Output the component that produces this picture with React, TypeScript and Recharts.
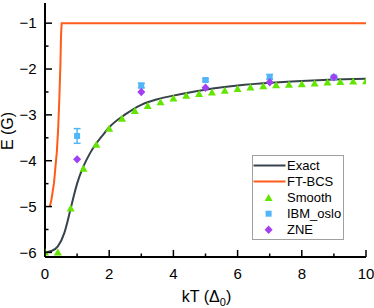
import React from 'react';
import { ComposedChart, Line, Scatter, XAxis, YAxis, ErrorBar, Legend } from 'recharts';

const FONT = '"Liberation Sans", Arial, Helvetica, sans-serif';

const COLOR_EXACT = '#37424a';
const COLOR_BCS = '#ff5b1a';
const COLOR_SMOOTH = '#62e600';
const COLOR_IBM = '#52b5f7';
const COLOR_ZNE = '#a23ff2';

// Exact curve
const EXACT_T = [0, 0.2, 0.4, 0.6, 0.7, 0.8, 0.9, 1.0, 1.2, 1.4, 1.6, 1.8, 2.0, 2.5, 3, 3.5, 4, 4.5, 5, 6, 7, 8, 9, 10];
const EXACT_E = [-6.0, -5.97, -5.87, -5.58, -5.33, -5.04, -4.76, -4.5, -4.12, -3.84, -3.62, -3.44, -3.27, -2.99, -2.78, -2.66, -2.58, -2.51, -2.45, -2.36, -2.3, -2.26, -2.23, -2.21];

// FT-BCS curve
const BCS_T = [0.15, 0.2, 0.28, 0.33, 0.37, 0.41, 0.445, 0.48, 0.5, 0.52, 10];
const BCS_E = [-5.0, -4.85, -4.49, -4.1, -3.8, -3.3, -2.68, -1.9, -1.25, -1.0, -1.0];

// Smooth points
const SMOOTH_T = [0, 0.4, 0.8, 1.2, 1.6, 2.0, 2.4, 2.8, 3.2, 3.6, 4.0, 4.4, 4.8, 5.2, 5.6, 6.0, 6.4, 6.8, 7.2, 7.6, 8.0, 8.4, 8.8, 9.2, 9.6, 10.0];
const SMOOTH_E = [-6.0, -6.0, -5.04, -4.17, -3.65, -3.3, -3.08, -2.91, -2.8, -2.72, -2.64, -2.58, -2.54, -2.51, -2.47, -2.43, -2.4, -2.37, -2.35, -2.34, -2.33, -2.31, -2.29, -2.28, -2.27, -2.26];

// IBM_oslo points with error
const IBM_T = [1, 3, 5, 7, 9];
const IBM_E = [-3.46, -2.36, -2.24, -2.17, -2.18];
const IBM_ERR = [0.16, 0.05, 0.03, 0.05, 0.03];

// ZNE points
const ZNE_T = [1, 3, 5, 7, 9];
const ZNE_E = [-3.97, -2.5, -2.41, -2.29, -2.18];

const X_TICKS = [0, 1, 2, 3, 4, 5, 6, 7, 8, 9, 10];
const X_MAJOR = [0, 2, 4, 6, 8, 10];
const Y_TICKS = [-6, -5.5, -5, -4.5, -4, -3.5, -3, -2.5, -2, -1.5, -1];
const Y_MAJOR = [-6, -5, -4, -3, -2, -1];

const SERIES_NAMES = ['Exact', 'FT-BCS', 'Smooth', 'IBM_oslo', 'ZNE'];

const exactData = EXACT_T.map((t, i) => ({ t, e: EXACT_E[i] }));
const bcsData = BCS_T.map((t, i) => ({ t, e: BCS_E[i] }));
const smoothData = SMOOTH_T.map((t, i) => ({ t, e: SMOOTH_E[i] }));
const ibmData = IBM_T.map((t, i) => ({ t, e: IBM_E[i], err: IBM_ERR[i] }));
const zneData = ZNE_T.map((t, i) => ({ t, e: ZNE_E[i] }));

const fmt = (v: number) => (v < 0 ? '\u2212' + Math.abs(v) : String(v));

const MAJOR_LEN = 7;
const MINOR_LEN = 3.5;

const XTickBottom = (props: any) => {
  const { x, y, payload } = props;
  const major = X_MAJOR.includes(payload.value);
  return (
    <g>
      <line x1={x} x2={x} y1={y} y2={y - (major ? MAJOR_LEN : MINOR_LEN)} stroke="#000" strokeWidth={1.5} />
      {major && (
        <text x={x} y={y + 21.5} textAnchor="middle" fontSize={15} fontFamily={FONT} fill="#000">
          {fmt(payload.value)}
        </text>
      )}
    </g>
  );
};

const XTickTop = (props: any) => {
  const { x, y, payload } = props;
  const major = X_MAJOR.includes(payload.value);
  return <line x1={x} x2={x} y1={y} y2={y + (major ? MAJOR_LEN : MINOR_LEN)} stroke="#000" strokeWidth={1.5} />;
};

const YTickLeft = (props: any) => {
  const { x, y, payload } = props;
  const major = Y_MAJOR.includes(payload.value);
  return (
    <g>
      <line x1={x} x2={x + (major ? MAJOR_LEN : MINOR_LEN)} y1={y} y2={y} stroke="#000" strokeWidth={1.5} />
      {major && (
        <text x={x - 8.3} y={y + 5.3} textAnchor="end" fontSize={15} fontFamily={FONT} fill="#000">
          {fmt(payload.value)}
        </text>
      )}
    </g>
  );
};

const YTickRight = (props: any) => {
  const { x, y, payload } = props;
  const major = Y_MAJOR.includes(payload.value);
  return <line x1={x} x2={x - (major ? MAJOR_LEN : MINOR_LEN)} y1={y} y2={y} stroke="#000" strokeWidth={1.5} />;
};

const triPoints = (cx: number, cy: number) => `${cx},${cy - 3.8} ${cx - 4},${cy + 3.2} ${cx + 4},${cy + 3.2}`;
const diaPoints = (cx: number, cy: number) => `${cx},${cy - 4.2} ${cx + 4},${cy} ${cx},${cy + 4.2} ${cx - 4},${cy}`;

const TriangleShape = (props: any) => {
  const { cx, cy } = props;
  if (cx == null || cy == null) return null;
  return <polygon points={triPoints(cx, cy)} fill={COLOR_SMOOTH} />;
};
const SquareShape = (props: any) => {
  const { cx, cy } = props;
  if (cx == null || cy == null) return null;
  return <rect x={cx - 3} y={cy - 3} width={6} height={6} fill={COLOR_IBM} />;
};
const DiamondShape = (props: any) => {
  const { cx, cy } = props;
  if (cx == null || cy == null) return null;
  return <polygon points={diaPoints(cx, cy)} fill={COLOR_ZNE} />;
};

const XLabel = (props: any) => {
  const vb = props.viewBox || { x: 45, width: 321, y: 257 };
  const cx = vb.x + vb.width / 2 + 1;
  return (
    <text x={cx} y={301.5} textAnchor="middle" fontSize={16} fontFamily={FONT} fill="#000">
      kT (Δ<tspan dy={4} fontSize={11}>0</tspan>
      <tspan dy={-4}>)</tspan>
    </text>
  );
};

const YLabel = () => {
  return (
    <text x={12.5} y={131} transform="rotate(-90, 12.5, 131)" textAnchor="middle" fontSize={16} fontFamily={FONT} fill="#000">
      E (G)
    </text>
  );
};

const LegendBox = () => {
  const rowY = [10.4, 26.4, 42.7, 58.7, 74.7];
  const colors = [COLOR_EXACT, COLOR_BCS, COLOR_SMOOTH, COLOR_IBM, COLOR_ZNE];
  return (
    <svg width={92} height={85} style={{ display: 'block' }}>
      <rect x={0.5} y={0.5} width={91} height={84} fill="#fff" stroke="#a0a0a0" strokeWidth={1} />
      {SERIES_NAMES.map((name, i) => {
        const y = rowY[i];
        let sym: React.ReactNode = null;
        if (i < 2) sym = <line x1={1.5} x2={33.5} y1={y} y2={y} stroke={colors[i]} strokeWidth={2} />;
        else if (i === 2) sym = <polygon points={triPoints(16.6, y)} fill={colors[i]} />;
        else if (i === 3) sym = <rect x={13.6} y={y - 3} width={6} height={6} fill={colors[i]} />;
        else sym = <polygon points={diaPoints(16.6, y)} fill={colors[i]} />;
        return (
          <g key={name}>
            {sym}
            <text x={35} y={y + 4.7} fontSize={13} fontFamily={FONT} fill="#000">
              {name}
            </text>
          </g>
        );
      })}
    </svg>
  );
};

export default function App() {
  return (
    <div style={{ position: 'absolute', left: 0, top: 0 }}>
      <ComposedChart width={374} height={308} margin={{ top: 3, right: 8, bottom: 0, left: 0 }}>
        <XAxis
          xAxisId="b"
          type="number"
          dataKey="t"
          domain={[0, 10]}
          ticks={X_TICKS}
          interval={0}
          allowDataOverflow
          orientation="bottom"
          height={51}
          tickSize={0}
          tickMargin={0}
          tickLine={false}
          tick={<XTickBottom />}
          axisLine={{ stroke: '#000', strokeWidth: 2 }}
          label={<XLabel />}
        />
        <XAxis
          xAxisId="t"
          type="number"
          dataKey="t"
          domain={[0, 10]}
          ticks={X_TICKS}
          interval={0}
          allowDataOverflow
          orientation="top"
          height={0}
          tickSize={0}
          tickMargin={0}
          tickLine={false}
          tick={<XTickTop />}
          axisLine={{ stroke: '#000', strokeWidth: 2 }}
        />
        <YAxis
          yAxisId="l"
          type="number"
          domain={[-6.1, -0.56]}
          ticks={Y_TICKS}
          interval={0}
          allowDataOverflow
          orientation="left"
          width={45}
          tickSize={0}
          tickMargin={0}
          tickLine={false}
          tick={<YTickLeft />}
          axisLine={{ stroke: '#000', strokeWidth: 2 }}
          label={<YLabel />}
        />
        <YAxis
          yAxisId="r"
          type="number"
          domain={[-6.1, -0.56]}
          ticks={Y_TICKS}
          interval={0}
          allowDataOverflow
          orientation="right"
          width={0}
          tickSize={0}
          tickMargin={0}
          tickLine={false}
          tick={<YTickRight />}
          axisLine={{ stroke: '#000', strokeWidth: 2 }}
        />
        <Line
          xAxisId="b"
          yAxisId="l"
          data={exactData}
          dataKey="e"
          name="Exact"
          type="monotone"
          stroke={COLOR_EXACT}
          strokeWidth={2}
          dot={false}
          isAnimationActive={false}
        />
        <Line
          xAxisId="b"
          yAxisId="l"
          data={bcsData}
          dataKey="e"
          name="FT-BCS"
          type="linear"
          stroke={COLOR_BCS}
          strokeWidth={2}
          dot={false}
          isAnimationActive={false}
        />
        <Scatter
          xAxisId="b"
          yAxisId="l"
          data={smoothData}
          dataKey="e"
          name="Smooth"
          fill={COLOR_SMOOTH}
          shape={<TriangleShape />}
          isAnimationActive={false}
        />
        <Scatter
          xAxisId="b"
          yAxisId="l"
          data={ibmData}
          dataKey="e"
          name="IBM_oslo"
          fill={COLOR_IBM}
          shape={<SquareShape />}
          isAnimationActive={false}
        >
          <ErrorBar dataKey="err" direction="y" width={3.5} stroke={COLOR_IBM} strokeWidth={1.5} isAnimationActive={false} />
        </Scatter>
        <Scatter
          xAxisId="b"
          yAxisId="l"
          data={zneData}
          dataKey="e"
          name="ZNE"
          fill={COLOR_ZNE}
          shape={<DiamondShape />}
          isAnimationActive={false}
        />
        <Legend
          layout="vertical"
          align="center"
          verticalAlign="middle"
          wrapperStyle={{ left: 252, top: 155, width: 92, height: 85 }}
          content={<LegendBox />}
        />
      </ComposedChart>
    </div>
  );
}
